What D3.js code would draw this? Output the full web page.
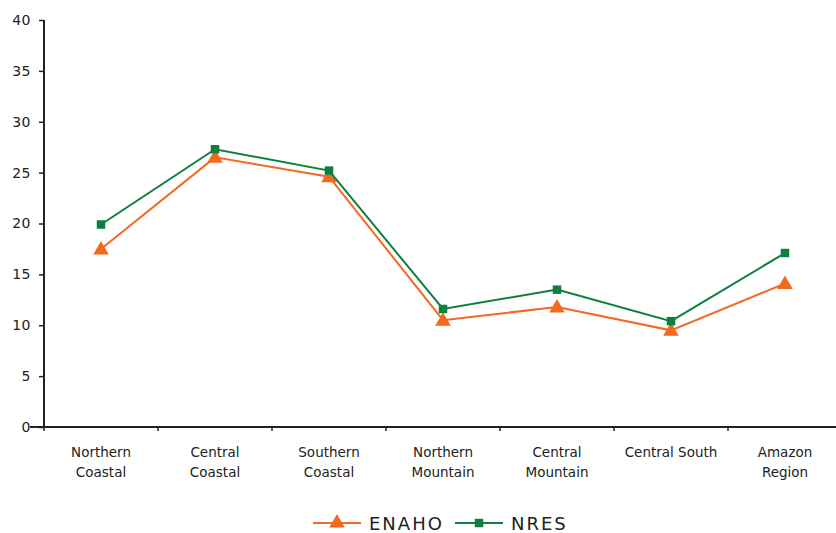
<!DOCTYPE html>
<html><head><meta charset="utf-8">
<script src="https://cdn.jsdelivr.net/npm/d3@7"></script>
<style>body{margin:0;background:#fff}svg{display:block}text{font-family:"DejaVu Sans",sans-serif;fill:#222}</style>
</head><body><svg id="c" width="836" height="533"></svg>
<script>
const categories = [["Northern","Coastal"],["Central","Coastal"],["Southern","Coastal"],["Northern","Mountain"],["Central","Mountain"],["Central South"],["Amazon","Region"]];
const enaho = [17.5, 26.5, 24.6, 10.5, 11.8, 9.5, 14.1];
const nres = [19.9, 27.3, 25.2, 11.6, 13.5, 10.4, 17.1];
const yTicks = [0,5,10,15,20,25,30,35,40];
const seriesNames = ["ENAHO","NRES"];
const colors = ["#f26a22","#0f7f3f"];

const svg = d3.select("#c");
const x = d3.scaleBand().domain(d3.range(categories.length)).range([44, 842]).padding(0);
const y = d3.scaleLinear().domain([0,40]).range([427, 20]);

// y axis
const ya = svg.append("g").attr("transform","translate(44,0)")
  .call(d3.axisLeft(y).tickValues(yTicks).tickSize(5).tickPadding(8));
ya.select(".domain").attr("stroke","#222").attr("stroke-width",2).attr("d","M0,427V20");
ya.selectAll(".tick line").attr("stroke","#222").attr("stroke-width",1.5);
ya.selectAll(".tick text").attr("font-size",14).attr("fill","#222").style("font-family","DejaVu Sans").attr("letter-spacing",0.5);

// x axis
const xa = svg.append("g").attr("transform","translate(0,427)");
xa.append("line").attr("x1",30).attr("x2",836).attr("y1",0).attr("y2",0).attr("stroke","#222").attr("stroke-width",2);
const bounds = d3.range(categories.length).map(i => x(i));
xa.selectAll("line.t").data(bounds).join("line").attr("class","t")
  .attr("x1",d=>d).attr("x2",d=>d).attr("y1",0).attr("y2",4).attr("stroke","#222").attr("stroke-width",1.5);
const lbl = xa.selectAll("text.cat").data(categories).join("text").attr("class","cat")
  .attr("text-anchor","middle").attr("font-size",13.5)
  .attr("transform",(d,i)=>`translate(${x(i)+x.bandwidth()/2},30)`);
lbl.selectAll("tspan").data(d=>d).join("tspan").attr("x",0).attr("dy",(d,i)=>i?20:0).text(d=>d);

const line = d3.line().x((d,i)=>x(i)+x.bandwidth()/2).y(d=>y(d));
const data = [enaho, nres];
const tri = d3.symbol().type(d3.symbolTriangle).size(105);
const sq = d3.symbol().type(d3.symbolSquare).size(72);

data.forEach((vals, s) => {
  svg.append("path").datum(vals).attr("d", line).attr("fill","none").attr("stroke",colors[s]).attr("stroke-width",2);
  svg.selectAll("path.m"+s).data(vals).join("path").attr("class","m"+s)
    .attr("d", s===0 ? tri : sq)
    .attr("transform",(d,i)=>`translate(${x(i)+x.bandwidth()/2},${y(d) + (s===0?1:0)})`)
    .attr("fill",colors[s]);
});

// legend
const leg = svg.append("g").attr("transform","translate(0,523)");
const legX = [313, 455];
seriesNames.forEach((n, s) => {
  const g = leg.append("g").attr("transform",`translate(${legX[s]},0)`);
  g.append("line").attr("x1",0).attr("x2",48).attr("stroke",colors[s]).attr("stroke-width",2);
  g.append("path").attr("d", s===0 ? tri : sq).attr("transform","translate(24,0)").attr("fill",colors[s]);
  g.append("text").attr("x",56).attr("y",7).attr("font-size",18).attr("letter-spacing",2).text(n);
});
</script></body></html>
